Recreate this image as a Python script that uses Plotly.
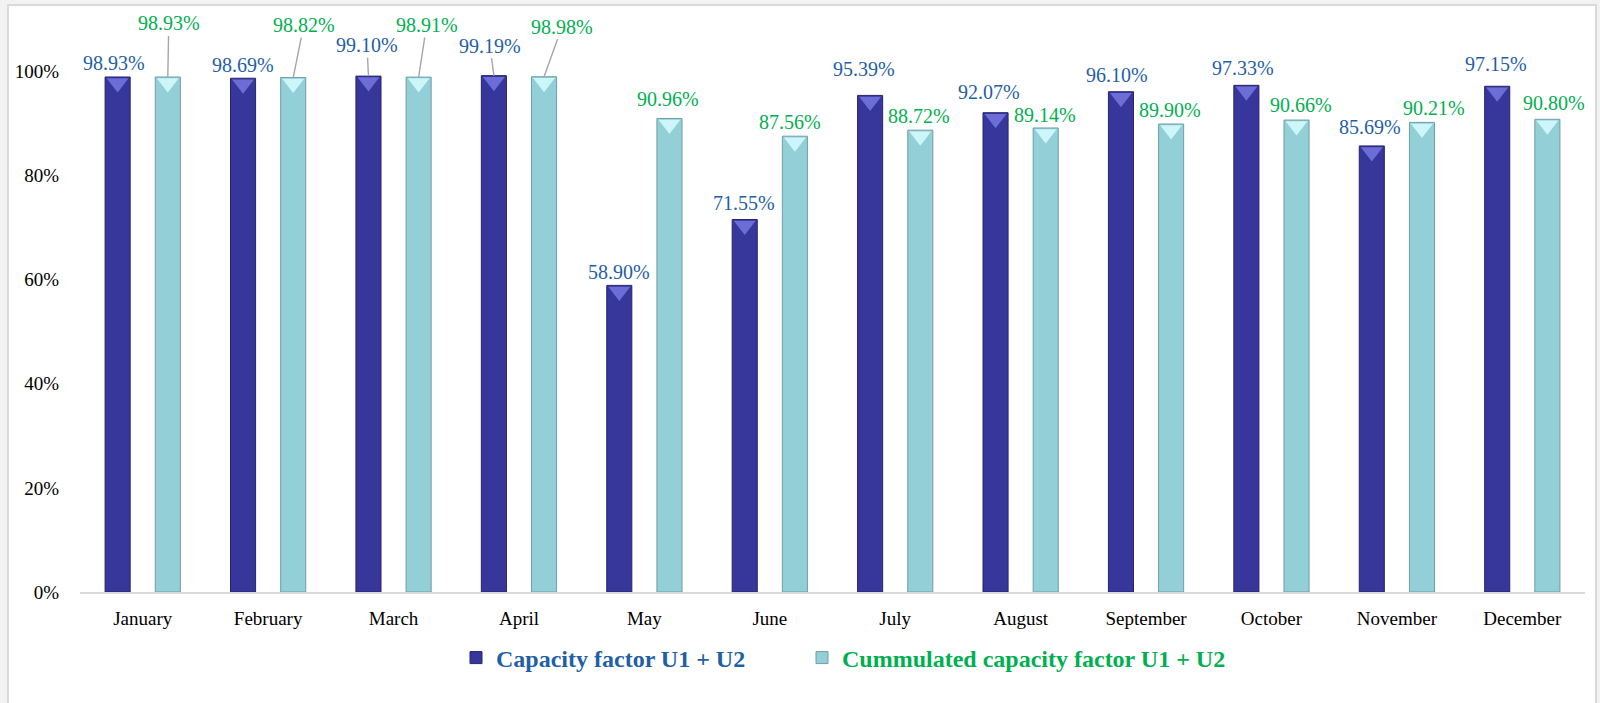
import plotly.graph_objects as go
import numpy as np

# ---------------- data ----------------
months = ["January", "February", "March", "April", "May", "June",
          "July", "August", "September", "October", "November", "December"]
capacity = [98.93, 98.69, 99.10, 99.19, 58.90, 71.55,
            95.39, 92.07, 96.10, 97.33, 85.69, 97.15]
cumulated = [98.93, 98.82, 98.91, 98.98, 90.96, 87.56,
             88.72, 89.14, 89.90, 90.66, 90.21, 90.80]
y_ticks = [0, 20, 40, 60, 80, 100]
y_tick_labels = ["0%", "20%", "40%", "60%", "80%", "100%"]
series_names = ["Capacity factor U1 + U2", "Cummulated capacity factor U1 + U2"]

# label placement (pixel offsets of label centre from bar top) and leader flags
cap_dx = [-4, 0, -1.5, -4, 0, -1, -6, -7, -4, -3, -2, -1.5]
cap_dy = [-14, -13, -31, -30, -13, -17, -26, -21, -17, -17, -19, -22]
cap_leader = [False, False, True, True] + [False] * 8
cum_dx = [1, 10.5, 8, 18, -1, -5, -1, -1, -1, 4, 12.5, 7]
cum_dy = [-53.5, -52.5, -52, -50, -19.5, -14, -14, -13, -14, -15, -14.5, -16]
cum_leader = [True, True, True, True] + [False] * 8

# ---------------- styles ----------------
FONT = "Times New Roman, Liberation Serif, serif"
BLUE_BAR = "#36369b"
BLUE_EDGE = "#25256e"
BLUE_BEVEL = "#6d6dd8"
TEAL_BAR = "#93cfd6"
TEAL_EDGE = "#6e9fa5"
TEAL_BEVEL = "#cdf6fa"
BLUE_TXT = "#1f5fa6"
GREEN_TXT = "#00b050"
LEADER = "#a6a6a6"

Y_MAX = 110.07
PX_PER_UNIT = 573 / Y_MAX
x = np.arange(len(months))
OFF = 0.2
BW = 0.2

fig = go.Figure()
fig.add_trace(go.Bar(
    x=x - OFF, y=capacity, width=BW, name=series_names[0],
    marker=dict(color=BLUE_BAR, line=dict(color=BLUE_EDGE, width=1)),
    legend="legend", hoverinfo="skip"))
fig.add_trace(go.Bar(
    x=x + OFF, y=cumulated, width=BW, name=series_names[1],
    marker=dict(color=TEAL_BAR, line=dict(color=TEAL_EDGE, width=1)),
    legend="legend2", hoverinfo="skip"))

# bevel highlight at the top of each bar
bevel_shift = 6 / PX_PER_UNIT
fig.add_trace(go.Scatter(
    x=x - OFF, y=np.array(capacity) - bevel_shift, mode="markers",
    marker=dict(symbol="triangle-down", size=19, color=BLUE_BEVEL, line=dict(width=0)),
    showlegend=False, hoverinfo="skip"))
fig.add_trace(go.Scatter(
    x=x + OFF, y=np.array(cumulated) - bevel_shift, mode="markers",
    marker=dict(symbol="triangle-down", size=19, color=TEAL_BEVEL, line=dict(width=0)),
    showlegend=False, hoverinfo="skip"))

annotations = []
def add_labels(values, shift, dxs, dys, leaders, color):
    for i, v in enumerate(values):
        txt = f"{v:.2f}%"
        if leaders[i]:
            annotations.append(dict(
                x=i + shift, y=v, xref="x", yref="y", text=txt,
                showarrow=True, arrowhead=0, arrowwidth=1.4, arrowcolor=LEADER,
                standoff=0, startstandoff=0, ax=dxs[i], ay=dys[i],
                font=dict(family=FONT, size=20, color=color)))
        else:
            annotations.append(dict(
                x=i + shift, y=v, xref="x", yref="y", text=txt,
                showarrow=False, xshift=dxs[i], yshift=-dys[i],
                xanchor="center", yanchor="middle",
                font=dict(family=FONT, size=20, color=color)))

add_labels(capacity, -OFF, cap_dx, cap_dy, cap_leader, BLUE_TXT)
add_labels(cumulated, OFF, cum_dx, cum_dy, cum_leader, GREEN_TXT)

L, R, T, B = 80, 15, 19, 111
PW = 1600 - L - R
PH = 703 - T - B
def px_x(p):
    return (p - L) / PW
def px_y(p):
    return (703 - B - p) / PH

fig.update_layout(
    width=1600, height=703,
    margin=dict(l=L, r=R, t=T, b=B),
    paper_bgcolor="#f2f2f2",
    plot_bgcolor="rgba(0,0,0,0)",
    barmode="overlay",
    font=dict(family=FONT),
    annotations=annotations,
    shapes=[dict(type="rect", xref="paper", yref="paper",
                 x0=px_x(8), x1=px_x(1596), y0=px_y(712), y1=px_y(5),
                 line=dict(color="#d9d9d9", width=2), fillcolor="white",
                 layer="below")],
    xaxis=dict(range=[-0.5, len(months) - 0.5], tickvals=x, ticktext=months,
               showgrid=False, zeroline=False, showline=True,
               linecolor="#d9d9d9", linewidth=2,
               ticks="outside", ticklen=8, tickcolor="rgba(0,0,0,0)",
               tickfont=dict(family=FONT, size=19, color="black")),
    yaxis=dict(range=[0, Y_MAX], tickvals=y_ticks, ticktext=y_tick_labels,
               showgrid=False, zeroline=False, showline=False,
               ticks="outside", ticklen=16, tickcolor="rgba(0,0,0,0)",
               tickfont=dict(family=FONT, size=19, color="black")),
    legend=dict(orientation="h", x=px_x(456), xanchor="left",
                y=px_y(658), yanchor="middle", bgcolor="rgba(0,0,0,0)",
                font=dict(family=FONT, size=24, color=BLUE_TXT, weight="bold")),
    legend2=dict(orientation="h", x=px_x(802), xanchor="left",
                 y=px_y(658), yanchor="middle", bgcolor="rgba(0,0,0,0)",
                 font=dict(family=FONT, size=24, color=GREEN_TXT, weight="bold")),
)

fig.write_html("out.html", config={"displayModeBar": False},
               post_script="document.body.style.margin='0px';document.body.style.overflow='hidden';")
